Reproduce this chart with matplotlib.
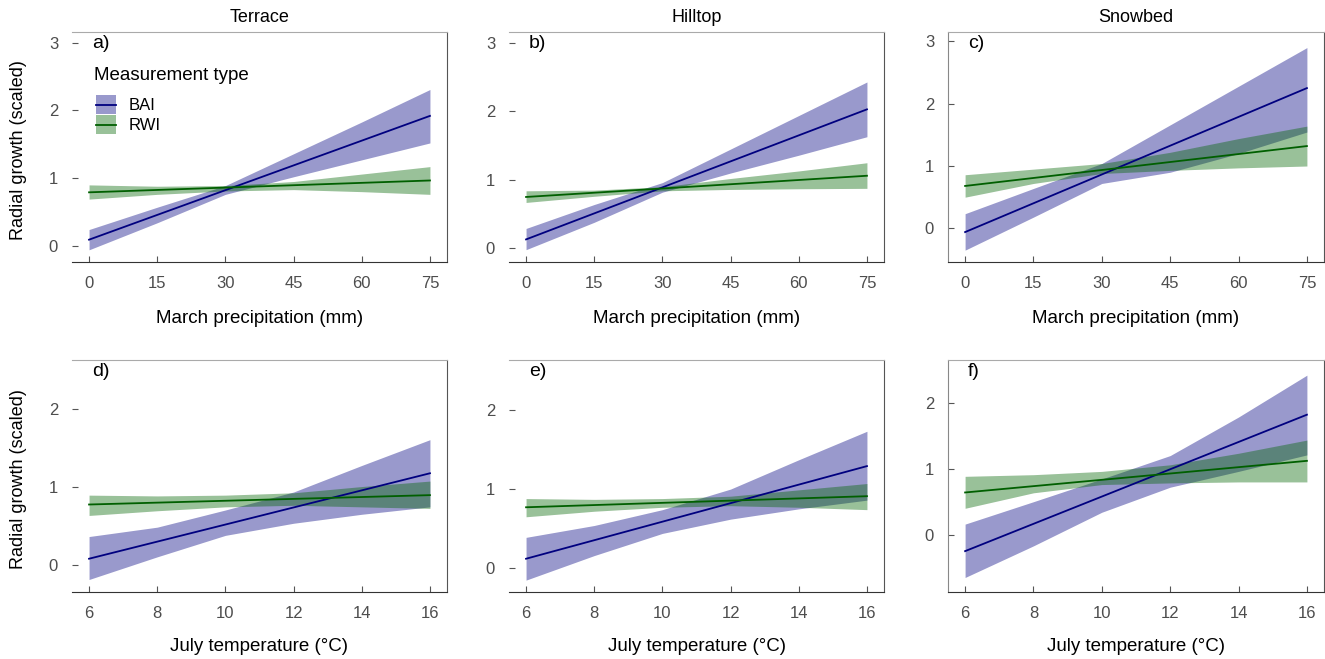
import matplotlib
matplotlib.use("Agg")
import matplotlib.pyplot as plt
from matplotlib.patches import Rectangle
from matplotlib.lines import Line2D

plt.rcParams["font.family"] = ["Liberation Sans", "DejaVu Sans"]

# ---- data -------------------------------------------------------------
sites = ["Terrace", "Hilltop", "Snowbed"]
panel_tags = ["a)", "b)", "c)", "d)", "e)", "f)"]
series_names = ["BAI", "RWI"]

prec_grid = [0, 15, 30, 45, 60, 75]          # March precipitation (mm)
temp_grid = [6, 8, 10, 12, 14, 16]           # July temperature (°C)
prec_ticks = [0, 15, 30, 45, 60, 75]
temp_ticks = [6, 8, 10, 12, 14, 16]

# fitted lines: value at the first and last grid point
terrace_prec_bai_fit = [0.09, 1.92]
terrace_prec_rwi_fit = [0.79, 0.965]
hilltop_prec_bai_fit = [0.13, 2.03]
hilltop_prec_rwi_fit = [0.75, 1.06]
snowbed_prec_bai_fit = [-0.06, 2.25]
snowbed_prec_rwi_fit = [0.68, 1.32]
terrace_temp_bai_fit = [0.086, 1.18]
terrace_temp_rwi_fit = [0.78, 0.90]
hilltop_temp_bai_fit = [0.12, 1.29]
hilltop_temp_rwi_fit = [0.77, 0.91]
snowbed_temp_bai_fit = [-0.25, 1.82]
snowbed_temp_rwi_fit = [0.64, 1.12]

# confidence ribbons on the grid
terrace_prec_bai_lo = [-0.06, 0.34, 0.76, 1.02, 1.27, 1.52]
terrace_prec_bai_hi = [0.24, 0.57, 0.89, 1.36, 1.83, 2.31]
terrace_prec_rwi_lo = [0.69, 0.76, 0.81, 0.83, 0.80, 0.76]
terrace_prec_rwi_hi = [0.90, 0.88, 0.89, 0.95, 1.06, 1.17]

hilltop_prec_bai_lo = [-0.02, 0.38, 0.82, 1.10, 1.36, 1.63]
hilltop_prec_bai_hi = [0.29, 0.64, 0.96, 1.45, 1.94, 2.43]
hilltop_prec_rwi_lo = [0.67, 0.76, 0.84, 0.86, 0.87, 0.876]
hilltop_prec_rwi_hi = [0.84, 0.85, 0.90, 1.02, 1.13, 1.25]

snowbed_prec_bai_lo = [-0.35, 0.18, 0.72, 0.90, 1.20, 1.545]
snowbed_prec_bai_hi = [0.235, 0.64, 1.04, 1.66, 2.28, 2.90]
snowbed_prec_rwi_lo = [0.50, 0.72, 0.88, 0.93, 0.97, 1.00]
snowbed_prec_rwi_hi = [0.86, 0.95, 1.04, 1.22, 1.44, 1.64]

terrace_temp_bai_lo = [-0.18, 0.11, 0.385, 0.54, 0.655, 0.75]
terrace_temp_bai_hi = [0.37, 0.49, 0.71, 0.94, 1.28, 1.61]
terrace_temp_rwi_lo = [0.64, 0.70, 0.75, 0.77, 0.75, 0.73]
terrace_temp_rwi_hi = [0.90, 0.89, 0.90, 0.93, 1.01, 1.08]

hilltop_temp_bai_lo = [-0.15, 0.16, 0.44, 0.62, 0.75, 0.86]
hilltop_temp_bai_hi = [0.39, 0.54, 0.74, 1.00, 1.37, 1.73]
hilltop_temp_rwi_lo = [0.65, 0.72, 0.77, 0.79, 0.77, 0.74]
hilltop_temp_rwi_hi = [0.88, 0.87, 0.88, 0.91, 0.99, 1.07]

snowbed_temp_bai_lo = [-0.65, -0.17, 0.34, 0.72, 0.96, 1.21]
snowbed_temp_bai_hi = [0.16, 0.50, 0.845, 1.20, 1.785, 2.42]
snowbed_temp_rwi_lo = [0.40, 0.635, 0.76, 0.785, 0.80, 0.80]
snowbed_temp_rwi_hi = [0.885, 0.91, 0.96, 1.06, 1.235, 1.435]

# ---- styling ----------------------------------------------------------
W, H = 1325, 659
line_colors = {"BAI": "#00007f", "RWI": "#005f00"}
fill_colors = {"BAI": "#000080", "RWI": "#006400"}
fill_alpha = 0.4
tick_grey = "#4d4d4d"

col_left = [72, 509, 948]
col_right = [447, 884, 1324]
row_top = [32, 360]
row_bottom = [262, 592]

ylims = [[(-0.24, 3.16), (-0.2, 3.16), (-0.54, 3.15)],
         [(-0.34, 2.63), (-0.30, 2.63), (-0.87, 2.65)]]

panels = [
    [(terrace_prec_bai_fit, terrace_prec_bai_lo, terrace_prec_bai_hi,
      terrace_prec_rwi_fit, terrace_prec_rwi_lo, terrace_prec_rwi_hi),
     (hilltop_prec_bai_fit, hilltop_prec_bai_lo, hilltop_prec_bai_hi,
      hilltop_prec_rwi_fit, hilltop_prec_rwi_lo, hilltop_prec_rwi_hi),
     (snowbed_prec_bai_fit, snowbed_prec_bai_lo, snowbed_prec_bai_hi,
      snowbed_prec_rwi_fit, snowbed_prec_rwi_lo, snowbed_prec_rwi_hi)],
    [(terrace_temp_bai_fit, terrace_temp_bai_lo, terrace_temp_bai_hi,
      terrace_temp_rwi_fit, terrace_temp_rwi_lo, terrace_temp_rwi_hi),
     (hilltop_temp_bai_fit, hilltop_temp_bai_lo, hilltop_temp_bai_hi,
      hilltop_temp_rwi_fit, hilltop_temp_rwi_lo, hilltop_temp_rwi_hi),
     (snowbed_temp_bai_fit, snowbed_temp_bai_lo, snowbed_temp_bai_hi,
      snowbed_temp_rwi_fit, snowbed_temp_rwi_lo, snowbed_temp_rwi_hi)],
]


class RibbonKey:
    """Legend key: a filled box with the fit line across its middle."""

    def __init__(self, name):
        self.name = name

    def legend_artist(self, legend, orig_handle, fontsize, handlebox):
        x0, y0 = -handlebox.xdescent, -handlebox.ydescent
        w, h = handlebox.width, handlebox.height
        tr = handlebox.get_transform()
        box = Rectangle((x0, y0), w, h, facecolor=fill_colors[self.name],
                        alpha=fill_alpha, lw=0, transform=tr)
        mid = Line2D([x0, x0 + w], [y0 + h / 2, y0 + h / 2],
                     color=line_colors[self.name], lw=1.3, transform=tr)
        handlebox.add_artist(box)
        handlebox.add_artist(mid)
        return box


fig = plt.figure(figsize=(W / 100, H / 100), dpi=100)

for r in range(2):
    grid = prec_grid if r == 0 else temp_grid
    ticks = prec_ticks if r == 0 else temp_ticks
    xlabel = "March precipitation (mm)" if r == 0 else "July temperature (°C)"
    span = grid[-1] - grid[0]
    for c in range(3):
        left, right = col_left[c], col_right[c]
        top, bottom = row_top[r], row_bottom[r]
        ax = fig.add_axes([left / W, 1 - bottom / H,
                           (right - left) / W, (bottom - top) / H])
        bfit, blo, bhi, rfit, rlo, rhi = panels[r][c]

        ax.fill_between(grid, blo, bhi, color=fill_colors["BAI"],
                        alpha=fill_alpha, lw=0)
        ax.fill_between(grid, rlo, rhi, color=fill_colors["RWI"],
                        alpha=fill_alpha, lw=0)
        ends = [grid[0], grid[-1]]
        ax.plot(ends, bfit, color=line_colors["BAI"], lw=1.3)
        ax.plot(ends, rfit, color=line_colors["RWI"], lw=1.3)

        ax.set_xlim(grid[0] - 0.05 * span, grid[-1] + 0.05 * span)
        ax.set_ylim(*ylims[r][c])
        ax.set_xticks(ticks)
        ymax = int(ylims[r][c][1])
        ax.set_yticks(list(range(0, ymax + 1)))
        ax.tick_params(direction="in", length=4, width=0.8, color="#555555",
                       labelsize=12, labelcolor=tick_grey, pad=10)

        ax.spines["top"].set_color("#aaaaaa")
        ax.spines["right"].set_color("#555555")
        ax.spines["bottom"].set_color("#333333")
        ax.spines["left"].set_color("#888888")
        for s in ax.spines.values():
            s.set_linewidth(0.8)
        if c < 2:
            ax.spines["left"].set_visible(False)

        ax.set_xlabel(xlabel, fontsize=13.5)
        ax.xaxis.set_label_coords(0.5, -(310 - 262) / 230 if r == 0 else -(638 - 592) / 232)

        tag_y = 1 - (43 - 32) / 230 if r == 0 else 1 - (372 - 360) / 232
        ax.text(0.053, tag_y, panel_tags[r * 3 + c], transform=ax.transAxes,
                fontsize=14, ha="left", va="center")

        if r == 0:
            ax.text(0.5, 1 + (32 - 17) / 230, sites[c], transform=ax.transAxes,
                    fontsize=13, ha="center", va="center")

        if c == 0:
            fig.text(19 / W, 1 - ((top + bottom) / 2 + 3) / H, "Radial growth (scaled)",
                     rotation=90, fontsize=13, ha="center", va="center")

        if r == 0 and c == 0:
            ax.text((94 - 72) / 375, 1 - (76 - 32) / 230, "Measurement type",
                    transform=ax.transAxes, fontsize=13.5, ha="left", va="center")
            keys = [Rectangle((0, 0), 1, 1, label=name) for name in series_names]
            ax.legend(keys, series_names,
                      handler_map={k: RibbonKey(n) for k, n in zip(keys, series_names)},
                      loc="upper left", bbox_to_anchor=((96 - 72) / 375, 1 - (95 - 32) / 230),
                      frameon=False, borderpad=0, borderaxespad=0, fontsize=12,
                      handlelength=1.2, handleheight=1.4, labelspacing=0.05,
                      handletextpad=0.75)

fig.savefig("out.png", dpi=100)
